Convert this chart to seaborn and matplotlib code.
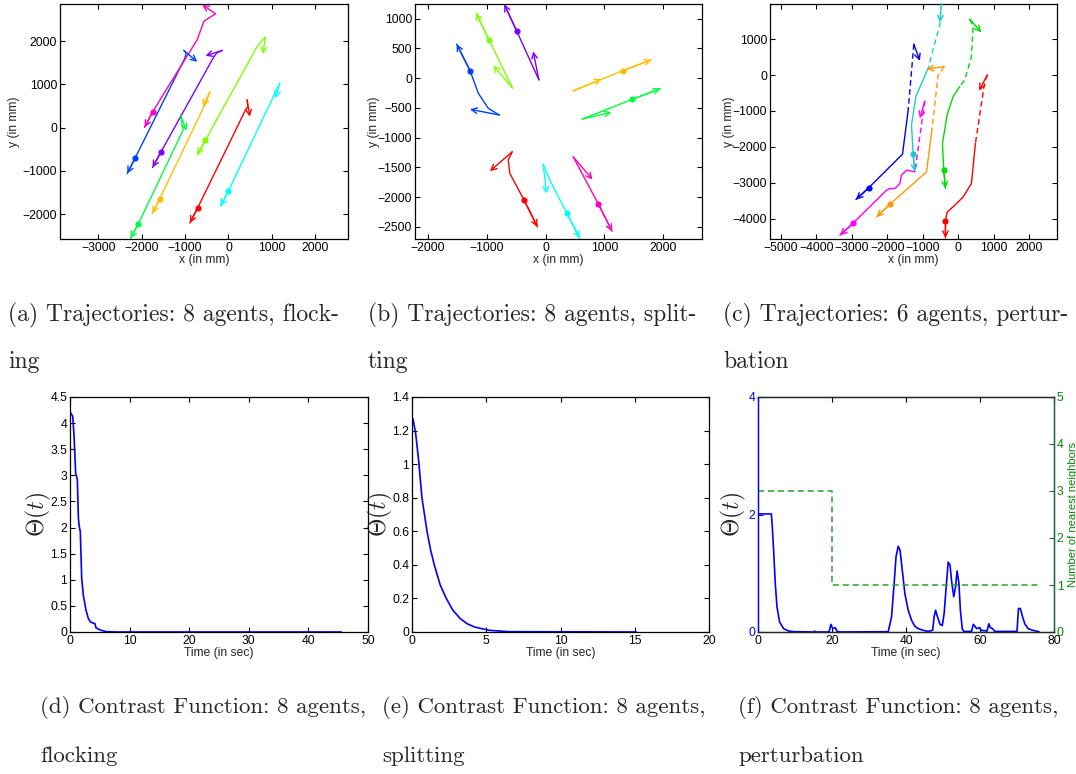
# %%
# === Load modules ===
import matplotlib
matplotlib.use("Agg")
import numpy as np
import seaborn as sns
import matplotlib.pyplot as plt
from matplotlib.ticker import FuncFormatter

# %%
# === Parameters ===
W, H = 1076, 774
BLUE = '#0000ff'
NN_GREEN = '#2e9e2e'
TXT_GREEN = '#008a00'

# colours of the 8 agents (matlab hsv(8))
HSV8 = ['#ff0000', '#ffbf00', '#80ff00', '#00ff40', '#00ffff', '#0040ff', '#8000ff', '#ff00bf']

# === (a) flocking: trajectories in mm, start -> end ===
A_PATH_X = [
    [430, 445, 392, -707, -891],
    [-430, -492, -1590, -1759],
    [853, 776, 661, -530, -722],
    [-1106, -1068, -1045, -2081, -2262],
    [1183, 0, -184],
    [-1029, -975, -1006, -2150, -2335],
    [-146, -276, -376, -1559, -1751],
    [-300, -568, -722, -1751, -1935],
]
A_PATH_Y = [
    [641, 486, 409, -1846, -2201],
    [834, 641, -1653, -1985],
    [2093, 2015, 1876, -286, -633],
    [293, 62, -54, -2224, -2560],
    [1027, -1459, -1815],
    [1784, 1722, 1606, -695, -1058],
    [1784, 1722, 1568, -564, -919],
    [2633, 2456, 2031, 363, 8],
]
A_TIP_X = [492, -591, 791, -968, 1083, -722, -530, -607]
A_TIP_Y = [255, 486, 1699, -69, 680, 1521, 1660, 2842]
A_DOT_X = [-707, -1590, -530, -2081, 0, -2150, -1559, -1751]
A_DOT_Y = [-1846, -1653, -286, -2224, -1459, -695, -564, 363]

# === (b) splitting ===
B_PATH_X = [
    [-565, -633, -605, -362, -136],
    [469, 1316, 1797],
    [-559, -960, -1181],
    [627, 1475, 1949],
    [-40, 73, 356, 582],
    [-785, -972, -1141, -1282, -1508],
    [-113, -492, -700],
    [469, 898, 1130],
]
B_PATH_Y = [
    [-1236, -1376, -1601, -2051, -2500],
    [-213, 129, 309],
    [-169, 646, 1096],
    [-685, -354, -174],
    [-1444, -1713, -2258, -2690],
    [-618, -506, -253, 129, 573],
    [-28, 798, 1240],
    [-1320, -2118, -2573],
]
B_TIP_X = [-944, 949, -887, 1119, 17, -1282, -209, 797]
B_TIP_Y = [-1562, -17, 213, -573, -1938, -522, 449, -1702]
B_DOT_X = [-362, 1316, -960, 1475, 356, -1282, -492, 898]
B_DOT_Y = [-2051, 129, 646, -354, -2258, 129, 798, -2118]

# === (c) perturbation: dashed part before, solid part after ===
C_COLORS = ['#0000ff', '#22cccc', '#ff9900', '#ff00ff', '#00dd00', '#ff0000']
C_DASH_X = [
    [-1251, -1410],
    [-473, -520, -848],
    [-398, -567, -754],
    [-942, -1223],
    [321, 417, 370, 183, 42],
    [820, 745, 483],
]
C_DASH_Y = [
    [860, -976],
    [1978, 1400, 190],
    [236, 0, -1628],
    [-722, -2696],
    [1558, 1354, 516, -136, -322],
    [4, -182, -1904],
]
C_SOLID_X = [
    [-1410, -1570, -2516, -2882],
    [-848, -1195, -1317, -1270, -1223],
    [-754, -895, -1926, -2301],
    [-1223, -1457, -1598, -1645, -1785, -1926, -2020, -2957, -3332],
    [42, -145, -314, -445, -408, -361],
    [483, 370, 136, -98, -314, -361, -361],
]
C_SOLID_Y = [
    [-976, -2205, -3136, -3471],
    [190, -601, -1393, -2212, -2696],
    [-1628, -2699, -3601, -3955],
    [-2696, -2649, -2789, -3022, -3162, -3162, -3209, -4122, -4466],
    [-322, -601, -1114, -1905, -2650, -3162],
    [-1904, -3025, -3397, -3630, -3816, -4067, -4540],
]
C_TIP_X = [-1082, -520, -895, -1082, 651, 586]
C_TIP_Y = [395, 1466, 162, -1206, 1186, -434]
C_DOT_X = [-2516, -1270, -1926, -2957, -408, -361]
C_DOT_Y = [-3136, -2212, -3601, -4122, -2650, -4067]

# === (d) contrast function, flocking ===
D_T = [0.1, 0.45, 0.67, 0.95, 1.23, 1.40, 1.51, 1.73, 1.96, 2.23, 2.68, 3.07, 3.46,
       3.9, 4.19, 4.36, 5.03, 6.1, 8.0, 45.5]
D_THETA = [4.2, 4.13, 3.78, 3.04, 2.92, 2.21, 2.05, 1.92, 1.03, 0.71, 0.42, 0.26, 0.19,
           0.17, 0.16, 0.08, 0.04, 0.006, 0.0, 0.0]

# === (e) contrast function, splitting ===
E_T = [0.07, 0.25, 0.45, 0.67, 1.01, 1.25, 1.50, 1.9, 2.31, 2.75, 3.25, 3.7, 4.2, 5.2, 6.5, 15.1]
E_THETA = [1.27, 1.18, 1.02, 0.80, 0.60, 0.49, 0.40, 0.28, 0.20, 0.13, 0.08, 0.05, 0.03,
           0.01, 0.002, 0.0]

# === (f) contrast function, perturbation + number of nearest neighbours ===
F_T = [0, 3.6, 3.87, 4.22, 4.67, 5.12, 5.84, 6.92, 8.27, 9.6,
       15.0, 15.3, 15.6, 19.2, 19.7, 20.2, 20.9, 21.3, 22, 35.2,
       36.1, 36.8, 37.3, 37.9, 38.4, 39.0, 39.7, 40.6, 41.5, 42.4,
       43.3, 44.7, 46.0, 47.2, 47.6, 48.0, 48.4, 49.2, 49.8, 50.3,
       51.0, 51.4, 51.9, 52.3, 52.9, 53.4, 53.8, 54.3, 54.7, 55.2,
       55.6, 57.7, 58.2, 58.6, 59.1, 59.8, 60.4, 61.9, 62.4, 62.8,
       63.4, 64.0, 70.0, 70.4, 70.9, 71.5, 72.1, 73.0, 74.3, 75.7, 76]
F_THETA = [2.01, 2.01, 1.79, 1.39, 0.83, 0.43, 0.17, 0.057, 0.017, 0.006,
           0, 0.015, 0, 0, 0.13, 0.057, 0.074, 0.017, 0, 0.005,
           0.26, 0.83, 1.28, 1.46, 1.39, 1.05, 0.65, 0.37, 0.2, 0.097,
           0.057, 0.028, 0.01, 0.03, 0.26, 0.37, 0.28, 0.13, 0.11, 0.31,
           0.88, 1.19, 1.14, 0.88, 0.60, 0.77, 1.04, 0.83, 0.37, 0.057,
           0.01, 0.01, 0.13, 0.1, 0.057, 0.074, 0.028, 0.017, 0.14, 0.074,
           0.057, 0.01, 0.01, 0.40, 0.40, 0.26, 0.14, 0.057, 0.028, 0.01, 0]
F_NN_T = [0, 20, 20, 76]
F_NN = [3, 3, 1, 1]

CAPTIONS_TOP = [
    (8, '(a) Trajectories: 8 agents, flock-', 'ing'),
    (368, '(b) Trajectories: 8 agents, split-', 'ting'),
    (723, '(c) Trajectories: 6 agents, pertur-', 'bation'),
]
CAPTIONS_BOT = [
    (40, '(d) Contrast Function: 8 agents,', 'flocking'),
    (382, '(e) Contrast Function: 8 agents,', 'splitting'),
    (738, '(f) Contrast Function: 8 agents,', 'perturbation'),
]

# %%
# === Style ===
sns.set_style('ticks', {'xtick.direction': 'in', 'ytick.direction': 'in'})
plt.rcParams['font.family'] = ['Liberation Sans', 'DejaVu Sans']
plt.rcParams['mathtext.fontset'] = 'cm'
plt.rcParams['axes.linewidth'] = 0.9
TICK_FS = 8.7


def box(l, t, r, b):
    return [l / W, 1 - b / H, (r - l) / W, (b - t) / H]


def fmt(v, pos):
    return f'{v:g}'.replace('-', '\u2212')


def style_axes(ax):
    ax.tick_params(top=True, right=True, direction='in', length=3.5, width=0.8,
                   labelsize=TICK_FS, pad=2, colors='black')
    ax.xaxis.set_major_formatter(FuncFormatter(fmt))
    ax.yaxis.set_major_formatter(FuncFormatter(fmt))
    for s in ax.spines.values():
        s.set_color('black')


def arrow(ax, x0, y0, x1, y1, color):
    ax.annotate('', xy=(x1, y1), xytext=(x0, y0),
                arrowprops=dict(arrowstyle='->', color=color, lw=1.0,
                                shrinkA=0, shrinkB=0, mutation_scale=10))


def trajectories(ax, px, py, tipx, tipy, dotx, doty, colors):
    for i, c in enumerate(colors):
        sns.lineplot(x=px[i], y=py[i], ax=ax, color=c, linewidth=1.0,
                     sort=False, estimator=None)
        arrow(ax, px[i][0], py[i][0], tipx[i], tipy[i], c)
        arrow(ax, dotx[i], doty[i], px[i][-1], py[i][-1], c)
        sns.scatterplot(x=[dotx[i]], y=[doty[i]], ax=ax, color=c, s=20,
                        linewidth=0, zorder=3)


def mm_labels(ax, ylab_x):
    ax.set_xlabel('x (in mm)', fontsize=TICK_FS)
    ax.set_ylabel('y (in mm)', fontsize=TICK_FS)
    ax.xaxis.set_label_coords(0.5, -0.064)
    ax.yaxis.set_label_coords(ylab_x, 0.5)


fig = plt.figure(figsize=(W / 100, H / 100), dpi=100)

# %%
# === Trajectory panels ===
ax_a = fig.add_axes(box(60, 4, 348, 239))
trajectories(ax_a, A_PATH_X, A_PATH_Y, A_TIP_X, A_TIP_Y, A_DOT_X, A_DOT_Y, HSV8)
ax_a.set_xlim(-3886, 2757)
ax_a.set_ylim(-2571, 2857)
ax_a.set_xticks(np.arange(-3000, 2001, 1000))
ax_a.set_yticks(np.arange(-2000, 2001, 1000))
style_axes(ax_a)
mm_labels(ax_a, -0.139)

ax_b = fig.add_axes(box(415, 4, 702, 239))
trajectories(ax_b, B_PATH_X, B_PATH_Y, B_TIP_X, B_TIP_Y, B_DOT_X, B_DOT_Y, HSV8)
ax_b.set_xlim(-2215, 2655)
ax_b.set_ylim(-2702, 1247)
ax_b.set_xticks(np.arange(-2000, 2001, 1000))
ax_b.set_yticks(np.arange(-2500, 1001, 500))
style_axes(ax_b)
mm_labels(ax_b, -0.122)

ax_c = fig.add_axes(box(770, 4, 1057, 239))
for i, c in enumerate(C_COLORS):
    sns.lineplot(x=C_DASH_X[i], y=C_DASH_Y[i], ax=ax_c, color=c, linewidth=1.0,
                 linestyle=(0, (4, 2.5)), sort=False, estimator=None)
    sns.lineplot(x=C_SOLID_X[i], y=C_SOLID_Y[i], ax=ax_c, color=c, linewidth=1.0,
                 sort=False, estimator=None)
    arrow(ax_c, C_DASH_X[i][0], C_DASH_Y[i][0], C_TIP_X[i], C_TIP_Y[i], c)
    arrow(ax_c, C_DOT_X[i], C_DOT_Y[i], C_SOLID_X[i][-1], C_SOLID_Y[i][-1], c)
    sns.scatterplot(x=[C_DOT_X[i]], y=[C_DOT_Y[i]], ax=ax_c, color=c, s=20,
                    linewidth=0, zorder=3)
ax_c.set_xlim(-5300, 2779)
ax_c.set_ylim(-4568, 1978)
ax_c.set_xticks(np.arange(-5000, 2001, 1000))
ax_c.set_yticks(np.arange(-4000, 1001, 1000))
style_axes(ax_c)
mm_labels(ax_c, -0.122)

# %%
# === Contrast function panels ===
def theta_axes(ax, lab_x):
    ax.set_xlabel('Time (in sec)', fontsize=TICK_FS)
    ax.xaxis.set_label_coords(0.5, -0.064)
    ax.set_ylabel(r'$\Theta(t)$', fontsize=17)
    ax.yaxis.set_label_coords(lab_x, 0.5)


ax_d = fig.add_axes(box(70, 397, 368, 632))
sns.lineplot(x=D_T, y=D_THETA, ax=ax_d, color=BLUE, linewidth=1.2, estimator=None)
ax_d.set_xlim(0, 50)
ax_d.set_ylim(0, 4.5)
ax_d.set_xticks(np.arange(0, 51, 10))
ax_d.set_yticks(np.arange(0, 4.51, 0.5))
style_axes(ax_d)
theta_axes(ax_d, -0.057)

ax_e = fig.add_axes(box(412, 397, 709, 632))
sns.lineplot(x=E_T, y=E_THETA, ax=ax_e, color=BLUE, linewidth=1.2, estimator=None)
ax_e.set_xlim(0, 20)
ax_e.set_ylim(0, 1.4)
ax_e.set_xticks(np.arange(0, 21, 5))
ax_e.set_yticks(np.arange(0, 1.41, 0.2))
style_axes(ax_e)
theta_axes(ax_e, -0.057)

ax_f = fig.add_axes(box(758, 397, 1054, 632))
sns.lineplot(x=F_T, y=F_THETA, ax=ax_f, color=BLUE, linewidth=1.2, estimator=None, sort=False)
ax_f.set_xlim(0, 80)
ax_f.set_ylim(0, 4)
ax_f.set_xticks(np.arange(0, 81, 20))
ax_f.set_yticks([0, 2, 4])
style_axes(ax_f)
ax_f.tick_params(right=False)
ax_f.tick_params(axis='y', colors=BLUE)
ax_f.spines['left'].set_color(BLUE)
theta_axes(ax_f, -0.034)

ax_f2 = ax_f.twinx()
sns.lineplot(x=F_NN_T, y=F_NN, ax=ax_f2, color=NN_GREEN, linewidth=1.1,
             linestyle=(0, (4, 2.5)), estimator=None, sort=False)
ax_f2.set_ylim(0, 5)
ax_f2.set_yticks(np.arange(0, 6, 1))
ax_f2.tick_params(axis='y', direction='in', length=3.5, width=0.8, labelsize=TICK_FS,
                  pad=2, colors='#1f5f5f', labelcolor=TXT_GREEN)
ax_f2.spines['right'].set_color('#1f5f5f')
ax_f2.spines['left'].set_color(BLUE)
ax_f2.set_ylabel('Number of nearest neighbors', fontsize=8, color=TXT_GREEN)
ax_f2.yaxis.set_label_coords(1.047, 0.5)

# %%
# === Sub-figure captions ===
for x, line1, line2 in CAPTIONS_TOP:
    fig.text(x / W, 1 - 321 / H, line1, fontfamily='cmr10', fontsize=17, va='baseline')
    fig.text(x / W, 1 - 368 / H, line2, fontfamily='cmr10', fontsize=17, va='baseline')
for x, line1, line2 in CAPTIONS_BOT:
    fig.text(x / W, 1 - 713 / H, line1, fontfamily='cmr10', fontsize=16.5, va='baseline')
    fig.text(x / W, 1 - 762 / H, line2, fontfamily='cmr10', fontsize=16.5, va='baseline')

fig.savefig('out.png', dpi=100)
